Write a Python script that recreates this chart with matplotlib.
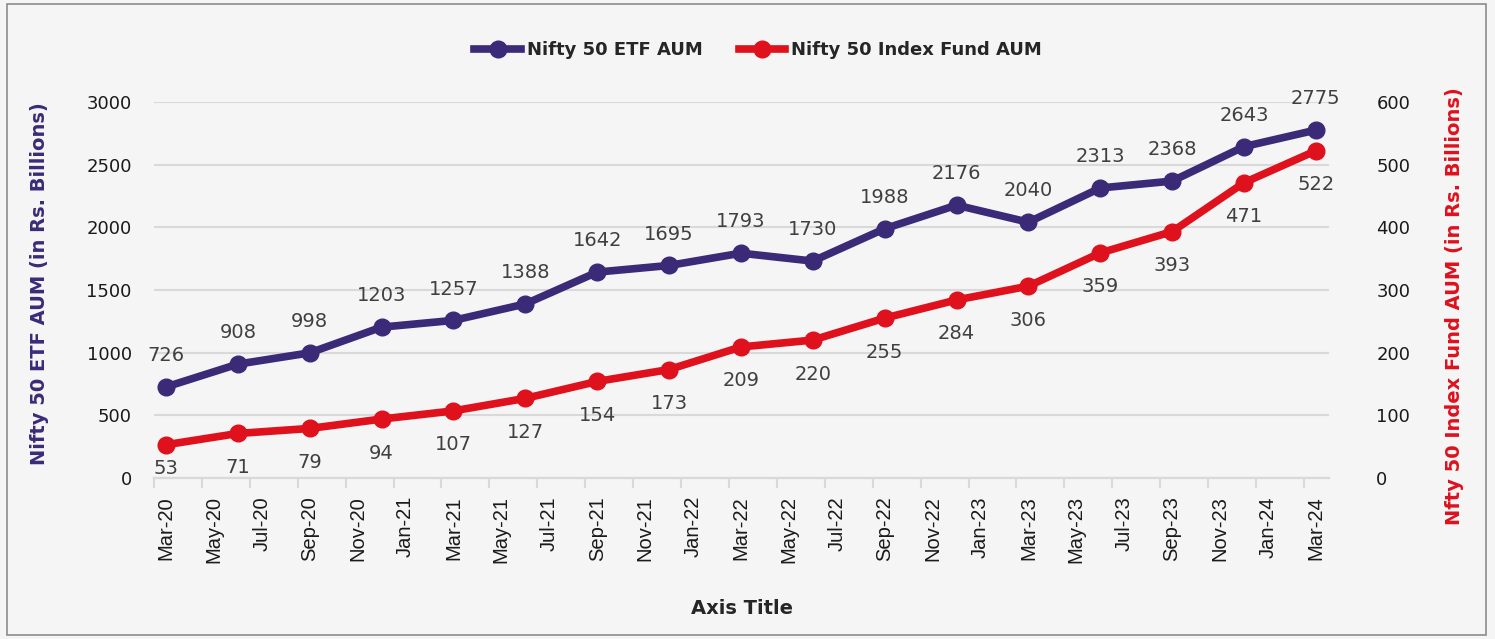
import matplotlib
matplotlib.use("Agg")
import matplotlib.pyplot as plt
from matplotlib.patches import Rectangle
from matplotlib.lines import Line2D
import pandas as pd

dates = ["2020-03-01", "2020-06-01", "2020-09-01", "2020-12-01",
         "2021-03-01", "2021-06-01", "2021-09-01", "2021-12-01",
         "2022-03-01", "2022-06-01", "2022-09-01", "2022-12-01",
         "2023-03-01", "2023-06-01", "2023-09-01", "2023-12-01",
         "2024-03-01"]
etf_aum = [726, 908, 998, 1203, 1257, 1388, 1642, 1695, 1793, 1730,
           1988, 2176, 2040, 2313, 2368, 2643, 2775]
index_aum = [53, 71, 79, 94, 107, 127, 154, 173, 209, 220,
             255, 284, 306, 359, 393, 471, 522]
left_ticks = [0, 500, 1000, 1500, 2000, 2500, 3000]
right_ticks = [0, 100, 200, 300, 400, 500, 600]
tick_months = pd.date_range("2020-03-01", "2024-03-01", freq="2MS")

PURPLE = "#3B2A78"
RED = "#DE111D"
BG = "#F5F5F5"
GRID = "#D9D9D9"
TXT = "#404040"

start = pd.Timestamp(dates[0])


def month_index(ts):
    ts = pd.Timestamp(ts)
    return (ts.year - start.year) * 12 + (ts.month - start.month)


x = [month_index(d) for d in dates]
tick_pos = [month_index(d) for d in tick_months]
tick_labels = [d.strftime("%b-%y") for d in tick_months]

fig = plt.figure(figsize=(14.95, 6.39), dpi=100)
fig.patch.set_facecolor(BG)
fig.patches.append(Rectangle((0.005, 0.006), 0.989, 0.988, transform=fig.transFigure,
                             fill=False, edgecolor="#8C8C8C", linewidth=1.2, zorder=0))

ax = fig.add_axes([0.103, 0.252, 0.7860, 0.5886])
ax.set_facecolor(BG)
ax2 = ax.twinx()

ax.plot(x, etf_aum, color=PURPLE, lw=5.5, marker="o", ms=12, zorder=5, solid_capstyle="round")
ax2.plot(x, index_aum, color=RED, lw=5.5, marker="o", ms=12, zorder=5, solid_capstyle="round")

ax.set_ylim(0, 3000)
ax2.set_ylim(0, 600)
ax.set_yticks(left_ticks)
ax2.set_yticks(right_ticks)
ax.set_xlim(x[0] - 0.5, x[-1] + 0.55)

ax.set_xticks(tick_pos)
ax.set_xticklabels(tick_labels, rotation=90, fontsize=14.5, fontfamily="Liberation Sans",
                   color="#1a1a1a")
ax.set_xticks([p - 0.5 for p in tick_pos], minor=True)
ax.tick_params(axis="x", which="major", length=0, pad=13)
ax.tick_params(axis="x", which="minor", length=7, width=1.5, color=GRID)

ax.grid(axis="y", color=GRID, lw=1.5)
ax.set_axisbelow(True)
ax.tick_params(axis="y", length=0, labelsize=13, labelcolor="#1a1a1a", pad=16)
ax2.tick_params(axis="y", length=0, labelsize=13, labelcolor="#1a1a1a", pad=34)
for a in (ax, ax2):
    for s in ["top", "left", "right"]:
        a.spines[s].set_visible(False)
    a.spines["bottom"].set_color(GRID)
    a.spines["bottom"].set_linewidth(1.5)

fig.text(40 / 1495, 1 - 284 / 639, "Nifty 50 ETF AUM (in Rs. Billions)", rotation=90,
         ha="center", va="center", color=PURPLE, fontsize=14, fontweight="bold")
fig.text(1455 / 1495, 1 - 306 / 639, "Nfty 50 Index Fund AUM (in Rs. Billions)", rotation=90,
         ha="center", va="center", color=RED, fontsize=14, fontweight="bold")
ax.set_xlabel("Axis Title", fontsize=14, fontweight="bold", color="#262626", labelpad=26)

for xi, v in zip(x, etf_aum):
    ax.annotate(f"{v}", (xi, v), xytext=(0, 22.5), textcoords="offset points",
                ha="center", va="center", fontsize=14, color=TXT, zorder=6)
for xi, v in zip(x, index_aum):
    off = -17 if v == index_aum[0] else -24.5
    ax2.annotate(f"{v}", (xi, v), xytext=(0, off), textcoords="offset points",
                 ha="center", va="center", fontsize=14, color=TXT, zorder=6)

handles = [Line2D([], [], color=PURPLE, lw=5.5, marker="o", ms=12),
           Line2D([], [], color=RED, lw=5.5, marker="o", ms=12)]
fig.legend(handles, ["Nifty 50 ETF AUM", "Nifty 50 Index Fund AUM"], loc="center",
           bbox_to_anchor=(0.507, 0.922), ncol=2, frameon=False, handlelength=2.6,
           columnspacing=2.0, handletextpad=0.3,
           prop={"size": 13, "weight": "bold"}, labelcolor="#262626")

fig.savefig("out.png", dpi=100, facecolor=fig.get_facecolor())
